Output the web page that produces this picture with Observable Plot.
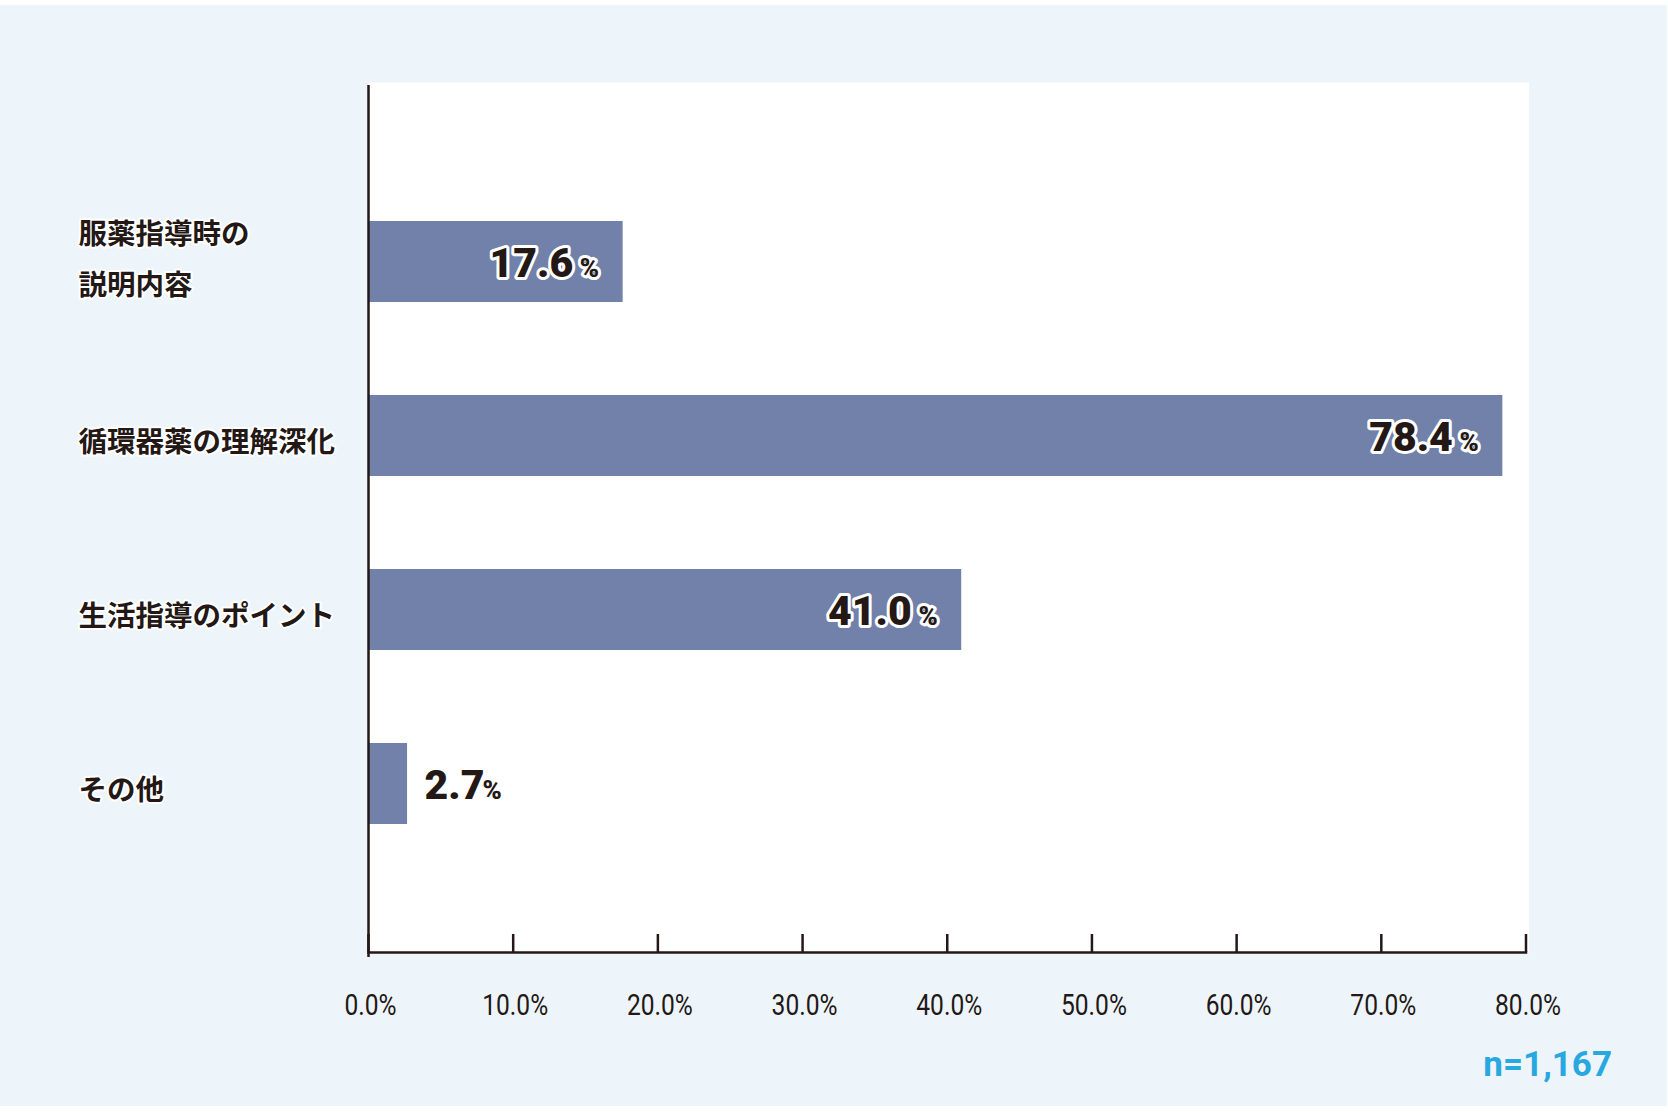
<!DOCTYPE html>
<html><head><meta charset="utf-8">
<script src="https://cdn.jsdelivr.net/npm/d3@7"></script>
<script src="https://cdn.jsdelivr.net/npm/@observablehq/plot@0.6"></script>
<style>
html,body{margin:0;padding:0;background:#fff;}
#wrap{position:relative;width:1668px;height:1112px;overflow:hidden;}
#bg{position:absolute;left:0;top:5px;width:1667px;height:1101px;background:#EDF5FB;}
#chart{position:absolute;left:0;top:0;}
</style></head><body>
<div id="wrap"><div id="bg"></div><div id="chart"></div></div>
<script>
const categories = ["服薬指導時の\n説明内容", "循環器薬の理解深化", "生活指導のポイント", "その他"];
const values = [17.6, 78.4, 41.0, 2.7];
const xTicks = [0, 10, 20, 30, 40, 50, 60, 70, 80];
const sampleNote = "n=1,167";

const ink = "#231815";
const numFont = "Roboto, 'DejaVu Sans', sans-serif";
const tickFont = "Roboto, 'Liberation Sans', sans-serif";
const jpFont = "'Noto Sans CJK JP', sans-serif";

const rows = categories.map((c, i) => ({cat: c, value: values[i]}));
const inside = rows.filter(d => d.value >= 10);
const outside = rows.filter(d => d.value < 10);
const oneLine = rows.filter(d => !d.cat.includes("\n"));
const twoLine = rows.filter(d => d.cat.includes("\n"));

const numStyle = {fontWeight: 900, fontFamily: numFont, fill: ink, lineAnchor: "bottom", dy: 14.5};
const haloStyle = {stroke: "white", strokeWidth: 6, paintOrder: "stroke", strokeLinejoin: "round"};
const labelStyle = {y: "cat", text: "cat", frameAnchor: "left", dx: -290, textAnchor: "start",
  fontSize: 28.5, fontWeight: 700, fontFamily: jpFont, fill: ink,
  stroke: "white", strokeWidth: 4, paintOrder: "stroke", strokeLinejoin: "round", lineHeight: 1.79};

const chart = Plot.plot({
  width: 1668, height: 1112,
  marginLeft: 368, marginRight: 142.5, marginTop: 82, marginBottom: 160,
  style: {background: "transparent", overflow: "visible"},
  x: {domain: [0, 80], axis: null},
  y: {domain: categories, range: [126.5, 918], padding: 0.536, axis: null},
  marks: [
    Plot.frame({fill: "white", stroke: null, insetRight: -3}),
    Plot.barX(rows, {x: "value", y: "cat", fill: "#7181AA"}),
    Plot.ruleX([0], {stroke: ink, strokeWidth: 2.5, insetTop: 3, insetBottom: -5}),
    Plot.ruleX(xTicks, {stroke: ink, strokeWidth: 2.5, insetTop: 852}),
    Plot.frame({anchor: "bottom", stroke: ink, strokeWidth: 2.5}),
    Plot.text(xTicks, {x: d => d, frameAnchor: "bottom", dy: 62, dx: 2, lineAnchor: "bottom",
      text: d => d.toFixed(1) + "%", fontSize: 30, fontFamily: tickFont, fill: ink}),
    Plot.text(oneLine, labelStyle),
    Plot.text(twoLine, {...labelStyle, dy: -9}),
    Plot.text(inside, {x: "value", y: "cat", text: d => d.value.toFixed(1), textAnchor: "end", dx: -50,
      fontSize: 41, ...numStyle, ...haloStyle}),
    Plot.text(inside, {x: "value", y: "cat", text: () => "%", textAnchor: "end", dx: -24,
      fontSize: 26, ...numStyle, ...haloStyle}),
    Plot.text(outside, {x: "value", y: "cat", text: d => d.value.toFixed(1), textAnchor: "start", dx: 17,
      fontSize: 41, ...numStyle}),
    Plot.text(outside, {x: "value", y: "cat", text: () => "%", textAnchor: "start", dx: 75,
      fontSize: 26, ...numStyle}),
    Plot.text([sampleNote], {text: d => d, frameAnchor: "bottom-right", dx: 86, dy: 123,
      textAnchor: "end", lineAnchor: "bottom", fontSize: 35, fontWeight: 700, fontFamily: numFont, fill: "#29A8E0"})
  ]
});
// condense the tick labels horizontally (the original uses a condensed face)
d3.select(chart).selectAll("text").each(function() {
  if (!/^\d+\.0%$/.test(this.textContent.trim())) return;
  const t = this.getAttribute("transform");
  if (t) {
    this.setAttribute("transform", t + " scale(0.82,1)");
  } else {
    const x = +(this.getAttribute("x") || 0), y = +(this.getAttribute("y") || 0);
    this.removeAttribute("x"); this.removeAttribute("y");
    this.setAttribute("transform", `translate(${x},${y}) scale(0.82,1)`);
  }
});
document.getElementById("chart").appendChild(chart);
</script>
</body></html>
